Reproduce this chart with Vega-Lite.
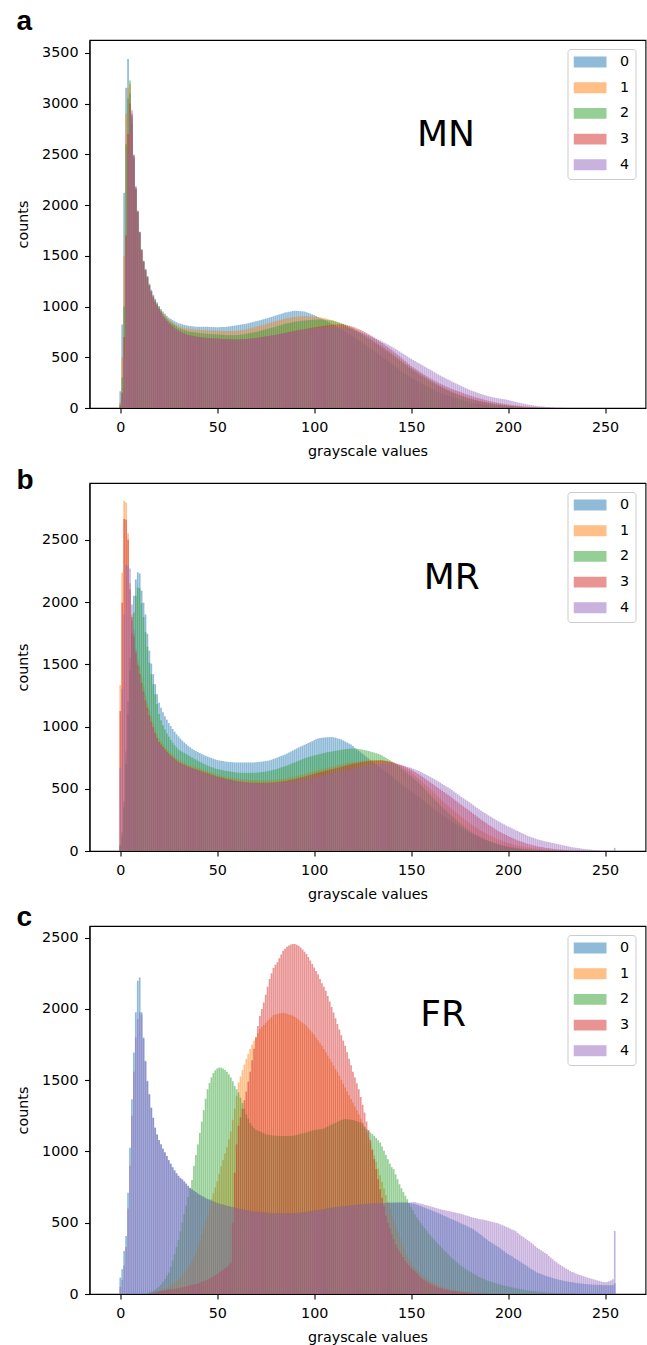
{
"$schema":"https://vega.github.io/schema/vega-lite/v6.json",
"padding":{"left":15.5,"top":7,"right":2,"bottom":2},
"bounds":"flush",
"spacing":75,
"resolve":{"scale":{"x":"independent","y":"independent","color":"independent"},"legend":{"color":"independent"}},
"config":{
"font":"DejaVu Sans",
"view":{"stroke":"#000000","strokeWidth":1.1},
"axis":{"domainColor":"#000000","domainWidth":1.1,"tickColor":"#000000","tickWidth":1.1,"tickSize":5,"labelColor":"#000000","labelFont":"DejaVu Sans","labelFontSize":14.3,"titleFont":"DejaVu Sans","titleFontSize":14.3,"titleFontWeight":"normal","titleColor":"#000000","grid":false,"labelFlush":false,"labelOverlap":false},
"axisX":{"labelPadding":7.5,"titlePadding":9.5},
"axisY":{"labelPadding":6.5,"titlePadding":11},
"legend":{"symbolType":"M-1,-0.33L1,-0.33L1,0.33L-1,0.33Z","symbolSize":1089,"symbolStrokeWidth":0,"symbolOpacity":0.5,"labelFont":"DejaVu Sans","labelFontSize":14.3,"labelColor":"#000000","labelOffset":13.5,"rowPadding":10.7,"padding":6,"strokeColor":"#cccccc","fillColor":"rgba(255,255,255,0.8)","cornerRadius":3,"clipHeight":14},
"title":{"font":"Liberation Sans","fontSize":28,"fontWeight":"bold","anchor":"start","frame":"bounds","color":"#000000","baseline":"alphabetic"}
},
"datasets":{
"a":[
{"x":0,"0":165,"1":60,"2":40,"3":20,"4":10},
{"x":1,"0":822,"1":500,"2":300,"3":150,"4":100},
{"x":2,"0":2120,"1":1500,"2":1000,"3":700,"4":500},
{"x":3,"0":3156,"1":2900,"2":2600,"3":1700,"4":1500},
{"x":4,"0":3440,"1":3150,"2":3050,"3":2700,"4":2500},
{"x":5,"0":3100,"1":3190,"2":3228,"3":3000,"4":2900},
{"x":6,"0":2800,"1":2850,"2":2880,"3":2900,"4":2933},
{"x":7,"0":2450,"1":2480,"2":2490,"3":2470,"4":2499},
{"x":8,"0":2150,"1":2170,"2":2175,"3":2160,"4":2186},
{"x":9,"0":1930,"1":1940,"2":1940,"3":1930,"4":1946},
{"x":10,"0":1730,"1":1735,"2":1735,"3":1720,"4":1736},
{"x":11,"0":1560,"1":1560,"2":1560,"3":1550,"4":1562},
{"x":12,"0":1450,"1":1445,"2":1445,"3":1435,"4":1447},
{"x":13,"0":1370,"1":1360,"2":1360,"3":1350,"4":1365},
{"x":14,"0":1300,"1":1290,"2":1290,"3":1280,"4":1295},
{"x":15,"0":1225,"1":1215,"2":1210,"3":1200,"4":1210},
{"x":16,"0":1165,"1":1155,"2":1150,"3":1140,"4":1150},
{"x":17,"0":1115,"1":1105,"2":1100,"3":1090,"4":1095},
{"x":18,"0":1075,"1":1065,"2":1060,"3":1045,"4":1050},
{"x":19,"0":1040,"1":1030,"2":1025,"3":1010,"4":1015},
{"x":20,"0":1005,"1":995,"2":990,"3":975,"4":980},
{"x":21,"0":975,"1":965,"2":957,"3":940,"4":942},
{"x":22,"0":950,"1":935,"2":925,"3":905,"4":905},
{"x":23,"0":928,"1":913,"2":903,"3":882,"4":882},
{"x":24,"0":908,"1":891,"2":881,"3":858,"4":858},
{"x":25,"0":890,"1":870,"2":860,"3":835,"4":835},
{"x":26,"0":878,"1":857,"2":846,"3":820,"4":820},
{"x":27,"0":866,"1":844,"2":832,"3":805,"4":805},
{"x":28,"0":855,"1":831,"2":818,"3":790,"4":790},
{"x":29,"0":845,"1":818,"2":804,"3":775,"4":775},
{"x":30,"0":835,"1":805,"2":790,"3":760,"4":760},
{"x":31,"0":830,"1":800,"2":783,"3":752,"4":752},
{"x":32,"0":825,"1":795,"2":776,"3":744,"4":744},
{"x":33,"0":818,"1":790,"2":769,"3":736,"4":736},
{"x":34,"0":814,"1":785,"2":762,"3":728,"4":728},
{"x":35,"0":810,"1":780,"2":755,"3":720,"4":720},
{"x":36,"0":808,"1":778,"2":752,"3":716,"4":716},
{"x":37,"0":805,"1":776,"2":749,"3":712,"4":712},
{"x":38,"0":803,"1":774,"2":746,"3":708,"4":708},
{"x":39,"0":801,"1":772,"2":743,"3":704,"4":704},
{"x":40,"0":800,"1":770,"2":740,"3":700,"4":700},
{"x":41,"0":800,"1":769,"2":738,"3":698,"4":698},
{"x":42,"0":800,"1":768,"2":736,"3":696,"4":696},
{"x":43,"0":800,"1":767,"2":734,"3":694,"4":694},
{"x":44,"0":800,"1":766,"2":732,"3":692,"4":692},
{"x":45,"0":800,"1":765,"2":730,"3":690,"4":690},
{"x":46,"0":799,"1":764,"2":729,"3":689,"4":689},
{"x":47,"0":798,"1":763,"2":728,"3":688,"4":688},
{"x":48,"0":797,"1":762,"2":727,"3":687,"4":686},
{"x":49,"0":796,"1":761,"2":726,"3":686,"4":684},
{"x":50,"0":795,"1":760,"2":725,"3":685,"4":683},
{"x":51,"0":796,"1":760,"2":724,"3":684,"4":682},
{"x":52,"0":797,"1":759,"2":722,"3":682,"4":681},
{"x":53,"0":798,"1":759,"2":721,"3":681,"4":680},
{"x":54,"0":799,"1":758,"2":719,"3":679,"4":679},
{"x":55,"0":800,"1":758,"2":718,"3":678,"4":678},
{"x":56,"0":803,"1":758,"2":718,"3":677,"4":677},
{"x":57,"0":806,"1":759,"2":718,"3":677,"4":677},
{"x":58,"0":809,"1":759,"2":718,"3":676,"4":676},
{"x":59,"0":812,"1":760,"2":718,"3":676,"4":676},
{"x":60,"0":815,"1":760,"2":718,"3":675,"4":675},
{"x":61,"0":818,"1":763,"2":720,"3":676,"4":676},
{"x":62,"0":821,"1":766,"2":723,"3":677,"4":677},
{"x":63,"0":824,"1":769,"2":725,"3":678,"4":678},
{"x":64,"0":827,"1":772,"2":728,"3":679,"4":679},
{"x":65,"0":830,"1":775,"2":730,"3":680,"4":680},
{"x":66,"0":835,"1":780,"2":734,"3":682,"4":682},
{"x":67,"0":840,"1":785,"2":738,"3":684,"4":684},
{"x":68,"0":845,"1":790,"2":742,"3":686,"4":686},
{"x":69,"0":850,"1":795,"2":746,"3":688,"4":688},
{"x":70,"0":855,"1":800,"2":750,"3":690,"4":690},
{"x":71,"0":860,"1":805,"2":755,"3":693,"4":693},
{"x":72,"0":865,"1":810,"2":760,"3":696,"4":696},
{"x":73,"0":870,"1":815,"2":765,"3":699,"4":699},
{"x":74,"0":875,"1":820,"2":770,"3":702,"4":702},
{"x":75,"0":880,"1":825,"2":775,"3":705,"4":705},
{"x":76,"0":886,"1":831,"2":780,"3":708,"4":708},
{"x":77,"0":892,"1":837,"2":785,"3":711,"4":711},
{"x":78,"0":898,"1":843,"2":790,"3":714,"4":714},
{"x":79,"0":904,"1":849,"2":795,"3":717,"4":717},
{"x":80,"0":910,"1":855,"2":800,"3":720,"4":720},
{"x":81,"0":916,"1":860,"2":806,"3":724,"4":724},
{"x":82,"0":922,"1":865,"2":812,"3":728,"4":727},
{"x":83,"0":928,"1":870,"2":818,"3":732,"4":731},
{"x":84,"0":934,"1":875,"2":824,"3":736,"4":734},
{"x":85,"0":940,"1":880,"2":830,"3":740,"4":738},
{"x":86,"0":944,"1":884,"2":834,"3":744,"4":741},
{"x":87,"0":948,"1":888,"2":838,"3":748,"4":745},
{"x":88,"0":952,"1":891,"2":842,"3":752,"4":748},
{"x":89,"0":955,"1":895,"2":846,"3":756,"4":752},
{"x":90,"0":958,"1":898,"2":850,"3":760,"4":755},
{"x":91,"0":957,"1":900,"2":852,"3":764,"4":758},
{"x":92,"0":956,"1":901,"2":855,"3":767,"4":761},
{"x":93,"0":954,"1":903,"2":857,"3":771,"4":764},
{"x":94,"0":952,"1":904,"2":860,"3":774,"4":767},
{"x":95,"0":950,"1":905,"2":862,"3":778,"4":770},
{"x":96,"0":944,"1":904,"2":864,"3":781,"4":772},
{"x":97,"0":937,"1":903,"2":865,"3":785,"4":775},
{"x":98,"0":930,"1":902,"2":867,"3":788,"4":777},
{"x":99,"0":922,"1":901,"2":868,"3":792,"4":780},
{"x":100,"0":915,"1":900,"2":870,"3":795,"4":782},
{"x":101,"0":906,"1":898,"2":870,"3":798,"4":784},
{"x":102,"0":897,"1":895,"2":871,"3":801,"4":786},
{"x":103,"0":888,"1":893,"2":871,"3":804,"4":788},
{"x":104,"0":879,"1":890,"2":872,"3":807,"4":790},
{"x":105,"0":870,"1":888,"2":872,"3":810,"4":792},
{"x":106,"0":860,"1":882,"2":870,"3":812,"4":793},
{"x":107,"0":850,"1":877,"2":867,"3":815,"4":794},
{"x":108,"0":840,"1":871,"2":865,"3":817,"4":796},
{"x":109,"0":830,"1":866,"2":862,"3":820,"4":797},
{"x":110,"0":820,"1":860,"2":860,"3":822,"4":798},
{"x":111,"0":809,"1":852,"2":854,"3":823,"4":797},
{"x":112,"0":798,"1":844,"2":848,"3":823,"4":797},
{"x":113,"0":787,"1":836,"2":842,"3":824,"4":796},
{"x":114,"0":776,"1":828,"2":836,"3":824,"4":796},
{"x":115,"0":765,"1":820,"2":830,"3":825,"4":795},
{"x":116,"0":753,"1":810,"2":821,"3":820,"4":791},
{"x":117,"0":741,"1":800,"2":812,"3":815,"4":787},
{"x":118,"0":729,"1":790,"2":803,"3":810,"4":783},
{"x":119,"0":717,"1":780,"2":794,"3":805,"4":779},
{"x":120,"0":705,"1":770,"2":785,"3":800,"4":775},
{"x":121,"0":692,"1":759,"2":774,"3":792,"4":768},
{"x":122,"0":679,"1":748,"2":763,"3":784,"4":761},
{"x":123,"0":666,"1":737,"2":752,"3":776,"4":754},
{"x":124,"0":653,"1":726,"2":741,"3":768,"4":747},
{"x":125,"0":640,"1":715,"2":730,"3":760,"4":740},
{"x":126,"0":627,"1":703,"2":718,"3":749,"4":732},
{"x":127,"0":614,"1":691,"2":706,"3":738,"4":724},
{"x":128,"0":601,"1":679,"2":694,"3":727,"4":716},
{"x":129,"0":588,"1":667,"2":682,"3":716,"4":708},
{"x":130,"0":575,"1":655,"2":670,"3":705,"4":700},
{"x":131,"0":561,"1":642,"2":657,"3":692,"4":691},
{"x":132,"0":547,"1":629,"2":644,"3":679,"4":682},
{"x":133,"0":533,"1":616,"2":631,"3":666,"4":673},
{"x":134,"0":519,"1":603,"2":618,"3":653,"4":664},
{"x":135,"0":505,"1":590,"2":605,"3":640,"4":655},
{"x":136,"0":491,"1":576,"2":591,"3":626,"4":645},
{"x":137,"0":477,"1":562,"2":577,"3":612,"4":635},
{"x":138,"0":463,"1":548,"2":563,"3":598,"4":625},
{"x":139,"0":449,"1":534,"2":549,"3":584,"4":615},
{"x":140,"0":435,"1":520,"2":535,"3":570,"4":605},
{"x":141,"0":421,"1":506,"2":521,"3":555,"4":593},
{"x":142,"0":407,"1":492,"2":507,"3":540,"4":581},
{"x":143,"0":393,"1":478,"2":493,"3":525,"4":569},
{"x":144,"0":379,"1":464,"2":479,"3":510,"4":557},
{"x":145,"0":365,"1":450,"2":465,"3":495,"4":545},
{"x":146,"0":352,"1":436,"2":451,"3":479,"4":533},
{"x":147,"0":339,"1":422,"2":437,"3":463,"4":521},
{"x":148,"0":326,"1":408,"2":423,"3":447,"4":509},
{"x":149,"0":313,"1":394,"2":409,"3":431,"4":497},
{"x":150,"0":300,"1":380,"2":395,"3":415,"4":485},
{"x":151,"0":289,"1":367,"2":382,"3":402,"4":474},
{"x":152,"0":278,"1":354,"2":369,"3":389,"4":463},
{"x":153,"0":267,"1":341,"2":356,"3":376,"4":452},
{"x":154,"0":256,"1":328,"2":343,"3":363,"4":441},
{"x":155,"0":245,"1":315,"2":330,"3":350,"4":430},
{"x":156,"0":235,"1":304,"2":318,"3":338,"4":419},
{"x":157,"0":225,"1":292,"2":306,"3":326,"4":408},
{"x":158,"0":215,"1":281,"2":294,"3":314,"4":397},
{"x":159,"0":205,"1":269,"2":282,"3":302,"4":386},
{"x":160,"0":195,"1":258,"2":270,"3":290,"4":375},
{"x":161,"0":186,"1":247,"2":259,"3":280,"4":364},
{"x":162,"0":177,"1":237,"2":248,"3":270,"4":353},
{"x":163,"0":168,"1":226,"2":237,"3":260,"4":342},
{"x":164,"0":159,"1":216,"2":226,"3":250,"4":331},
{"x":165,"0":150,"1":205,"2":215,"3":240,"4":320},
{"x":166,"0":143,"1":196,"2":206,"3":231,"4":310},
{"x":167,"0":136,"1":187,"2":196,"3":222,"4":300},
{"x":168,"0":129,"1":178,"2":187,"3":213,"4":290},
{"x":169,"0":122,"1":169,"2":177,"3":204,"4":280},
{"x":170,"0":115,"1":160,"2":168,"3":195,"4":270},
{"x":171,"0":109,"1":152,"2":160,"3":188,"4":261},
{"x":172,"0":103,"1":145,"2":152,"3":181,"4":252},
{"x":173,"0":97,"1":137,"2":144,"3":174,"4":243},
{"x":174,"0":91,"1":130,"2":136,"3":167,"4":234},
{"x":175,"0":85,"1":122,"2":128,"3":160,"4":225},
{"x":176,"0":80,"1":116,"2":122,"3":153,"4":216},
{"x":177,"0":75,"1":110,"2":115,"3":146,"4":207},
{"x":178,"0":70,"1":104,"2":109,"3":139,"4":198},
{"x":179,"0":65,"1":98,"2":102,"3":132,"4":189},
{"x":180,"0":60,"1":92,"2":96,"3":125,"4":180},
{"x":181,"0":56,"1":87,"2":91,"3":119,"4":173},
{"x":182,"0":53,"1":82,"2":86,"3":113,"4":166},
{"x":183,"0":49,"1":78,"2":80,"3":107,"4":159},
{"x":184,"0":46,"1":73,"2":75,"3":101,"4":152},
{"x":185,"0":42,"1":68,"2":70,"3":95,"4":145},
{"x":186,"0":39,"1":64,"2":66,"3":90,"4":139},
{"x":187,"0":36,"1":60,"2":62,"3":85,"4":133},
{"x":188,"0":34,"1":56,"2":58,"3":80,"4":127},
{"x":189,"0":31,"1":52,"2":54,"3":75,"4":121},
{"x":190,"0":28,"1":48,"2":50,"3":70,"4":115},
{"x":191,"0":26,"1":45,"2":47,"3":66,"4":111},
{"x":192,"0":24,"1":42,"2":44,"3":62,"4":107},
{"x":193,"0":22,"1":39,"2":40,"3":58,"4":103},
{"x":194,"0":20,"1":36,"2":37,"3":54,"4":99},
{"x":195,"0":18,"1":33,"2":34,"3":50,"4":95},
{"x":196,"0":17,"1":31,"2":32,"3":47,"4":92},
{"x":197,"0":15,"1":29,"2":29,"3":44,"4":89},
{"x":198,"0":14,"1":26,"2":27,"3":41,"4":86},
{"x":199,"0":12,"1":24,"2":24,"3":38,"4":83},
{"x":200,"0":11,"1":22,"2":22,"3":35,"4":80},
{"x":201,"0":10,"1":20,"2":20,"3":32,"4":75},
{"x":202,"0":9,"1":19,"2":19,"3":30,"4":70},
{"x":203,"0":8,"1":17,"2":17,"3":27,"4":65},
{"x":204,"0":7,"1":16,"2":16,"3":25,"4":60},
{"x":205,"0":6,"1":14,"2":14,"3":22,"4":55},
{"x":206,"0":5,"1":13,"2":13,"3":20,"4":51},
{"x":207,"0":5,"1":12,"2":11,"3":18,"4":47},
{"x":208,"0":4,"1":10,"2":10,"3":17,"4":43},
{"x":209,"0":4,"1":9,"2":9,"3":15,"4":39},
{"x":210,"0":3,"1":8,"2":8,"3":13,"4":35},
{"x":211,"0":3,"1":7,"2":7,"3":12,"4":32},
{"x":212,"0":2,"1":6,"2":6,"3":10,"4":29},
{"x":213,"0":2,"1":6,"2":5,"3":9,"4":26},
{"x":214,"0":1,"1":5,"2":5,"3":7,"4":23},
{"x":215,"0":1,"1":4,"2":4,"3":6,"4":20},
{"x":216,"0":1,"1":4,"2":4,"3":5,"4":18},
{"x":217,"0":0,"1":3,"2":3,"3":4,"4":16},
{"x":218,"0":0,"1":3,"2":3,"3":4,"4":14},
{"x":219,"0":0,"1":2,"2":2,"3":3,"4":12},
{"x":220,"0":0,"1":2,"2":2,"3":2,"4":10},
{"x":221,"0":0,"1":2,"2":2,"3":2,"4":9},
{"x":222,"0":0,"1":1,"2":1,"3":1,"4":7},
{"x":223,"0":0,"1":1,"2":1,"3":1,"4":6},
{"x":224,"0":0,"1":0,"2":0,"3":0,"4":5},
{"x":225,"0":0,"1":0,"2":0,"3":0,"4":4},
{"x":226,"0":0,"1":0,"2":0,"3":0,"4":3},
{"x":227,"0":0,"1":0,"2":0,"3":0,"4":3},
{"x":228,"0":0,"1":0,"2":0,"3":0,"4":2},
{"x":229,"0":0,"1":0,"2":0,"3":0,"4":2},
{"x":230,"0":0,"1":0,"2":0,"3":0,"4":1}
],
"b":[
{"x":0,"0":50,"1":1333,"2":40,"3":1124,"4":668},
{"x":1,"0":150,"1":2237,"2":120,"3":1995,"4":1300},
{"x":2,"0":400,"1":2813,"2":350,"3":2666,"4":1900},
{"x":3,"0":800,"1":2800,"2":700,"3":2660,"4":2300},
{"x":4,"0":1200,"1":2550,"2":1100,"3":2500,"4":2290},
{"x":5,"0":1550,"1":2150,"2":1450,"3":2100,"4":2270},
{"x":6,"0":1850,"1":1900,"2":1750,"3":1880,"4":1980},
{"x":7,"0":2050,"1":1740,"2":1915,"3":1720,"4":1780},
{"x":8,"0":2180,"1":1610,"2":2050,"3":1590,"4":1620},
{"x":9,"0":2240,"1":1530,"2":2116,"3":1490,"4":1500},
{"x":10,"0":2230,"1":1480,"2":2110,"3":1420,"4":1410},
{"x":11,"0":2090,"1":1400,"2":1990,"3":1350,"4":1330},
{"x":12,"0":1995,"1":1320,"2":1880,"3":1280,"4":1270},
{"x":13,"0":1900,"1":1250,"2":1760,"3":1210,"4":1200},
{"x":14,"0":1745,"1":1185,"2":1640,"3":1150,"4":1140},
{"x":15,"0":1610,"1":1130,"2":1513,"3":1090,"4":1085},
{"x":16,"0":1505,"1":1075,"2":1420,"3":1040,"4":1035},
{"x":17,"0":1420,"1":1025,"2":1340,"3":995,"4":990},
{"x":18,"0":1340,"1":980,"2":1260,"3":950,"4":945},
{"x":19,"0":1260,"1":940,"2":1180,"3":910,"4":905},
{"x":20,"0":1190,"1":900,"2":1100,"3":875,"4":870},
{"x":21,"0":1150,"1":878,"2":1050,"3":855,"4":850},
{"x":22,"0":1115,"1":857,"2":1010,"3":835,"4":830},
{"x":23,"0":1083,"1":837,"2":975,"3":815,"4":810},
{"x":24,"0":1055,"1":818,"2":945,"3":797,"4":792},
{"x":25,"0":1028,"1":800,"2":918,"3":780,"4":775},
{"x":26,"0":1003,"1":786,"2":893,"3":766,"4":761},
{"x":27,"0":980,"1":773,"2":870,"3":753,"4":748},
{"x":28,"0":958,"1":760,"2":850,"3":740,"4":735},
{"x":29,"0":938,"1":747,"2":832,"3":727,"4":722},
{"x":30,"0":920,"1":735,"2":815,"3":715,"4":710},
{"x":31,"0":903,"1":727,"2":806,"3":708,"4":703},
{"x":32,"0":887,"1":719,"2":797,"3":700,"4":695},
{"x":33,"0":872,"1":711,"2":788,"3":693,"4":688},
{"x":34,"0":858,"1":703,"2":779,"3":685,"4":680},
{"x":35,"0":845,"1":695,"2":770,"3":678,"4":673},
{"x":36,"0":833,"1":690,"2":761,"3":672,"4":667},
{"x":37,"0":822,"1":684,"2":752,"3":667,"4":662},
{"x":38,"0":812,"1":679,"2":743,"3":661,"4":656},
{"x":39,"0":803,"1":673,"2":734,"3":656,"4":651},
{"x":40,"0":795,"1":668,"2":725,"3":650,"4":645},
{"x":41,"0":787,"1":662,"2":717,"3":645,"4":640},
{"x":42,"0":779,"1":657,"2":708,"3":640,"4":635},
{"x":43,"0":772,"1":651,"2":700,"3":635,"4":630},
{"x":44,"0":765,"1":646,"2":693,"3":630,"4":625},
{"x":45,"0":759,"1":640,"2":687,"3":625,"4":620},
{"x":46,"0":753,"1":634,"2":680,"3":620,"4":615},
{"x":47,"0":747,"1":629,"2":674,"3":614,"4":609},
{"x":48,"0":741,"1":623,"2":669,"3":609,"4":604},
{"x":49,"0":736,"1":618,"2":663,"3":603,"4":598},
{"x":50,"0":731,"1":612,"2":658,"3":598,"4":593},
{"x":51,"0":727,"1":608,"2":655,"3":594,"4":589},
{"x":52,"0":724,"1":604,"2":652,"3":590,"4":585},
{"x":53,"0":722,"1":601,"2":648,"3":586,"4":581},
{"x":54,"0":719,"1":597,"2":645,"3":582,"4":577},
{"x":55,"0":717,"1":593,"2":642,"3":578,"4":573},
{"x":56,"0":715,"1":590,"2":640,"3":575,"4":570},
{"x":57,"0":714,"1":588,"2":637,"3":572,"4":567},
{"x":58,"0":713,"1":585,"2":635,"3":568,"4":563},
{"x":59,"0":712,"1":583,"2":632,"3":565,"4":560},
{"x":60,"0":711,"1":580,"2":630,"3":562,"4":557},
{"x":61,"0":711,"1":578,"2":629,"3":560,"4":555},
{"x":62,"0":711,"1":577,"2":629,"3":558,"4":553},
{"x":63,"0":711,"1":575,"2":628,"3":556,"4":551},
{"x":64,"0":711,"1":574,"2":628,"3":554,"4":550},
{"x":65,"0":711,"1":572,"2":627,"3":552,"4":548},
{"x":66,"0":711,"1":571,"2":627,"3":551,"4":547},
{"x":67,"0":711,"1":570,"2":627,"3":550,"4":546},
{"x":68,"0":711,"1":570,"2":628,"3":549,"4":545},
{"x":69,"0":711,"1":569,"2":628,"3":549,"4":544},
{"x":70,"0":712,"1":568,"2":628,"3":548,"4":543},
{"x":71,"0":714,"1":568,"2":630,"3":548,"4":543},
{"x":72,"0":716,"1":567,"2":632,"3":548,"4":542},
{"x":73,"0":718,"1":567,"2":634,"3":548,"4":542},
{"x":74,"0":720,"1":567,"2":636,"3":548,"4":542},
{"x":75,"0":722,"1":567,"2":638,"3":548,"4":542},
{"x":76,"0":725,"1":568,"2":641,"3":549,"4":543},
{"x":77,"0":728,"1":569,"2":645,"3":550,"4":543},
{"x":78,"0":733,"1":570,"2":648,"3":550,"4":544},
{"x":79,"0":739,"1":571,"2":652,"3":551,"4":544},
{"x":80,"0":745,"1":572,"2":655,"3":552,"4":545},
{"x":81,"0":751,"1":574,"2":660,"3":554,"4":546},
{"x":82,"0":757,"1":576,"2":665,"3":556,"4":548},
{"x":83,"0":763,"1":578,"2":671,"3":558,"4":549},
{"x":84,"0":769,"1":580,"2":676,"3":560,"4":551},
{"x":85,"0":775,"1":582,"2":681,"3":562,"4":552},
{"x":86,"0":783,"1":585,"2":687,"3":565,"4":554},
{"x":87,"0":791,"1":588,"2":693,"3":568,"4":556},
{"x":88,"0":800,"1":592,"2":700,"3":572,"4":558},
{"x":89,"0":808,"1":595,"2":706,"3":575,"4":560},
{"x":90,"0":816,"1":598,"2":712,"3":578,"4":562},
{"x":91,"0":824,"1":602,"2":719,"3":582,"4":565},
{"x":92,"0":832,"1":606,"2":725,"3":586,"4":567},
{"x":93,"0":839,"1":610,"2":732,"3":590,"4":570},
{"x":94,"0":846,"1":614,"2":738,"3":594,"4":572},
{"x":95,"0":853,"1":618,"2":745,"3":598,"4":575},
{"x":96,"0":860,"1":622,"2":749,"3":602,"4":578},
{"x":97,"0":868,"1":627,"2":754,"3":607,"4":581},
{"x":98,"0":875,"1":631,"2":759,"3":611,"4":584},
{"x":99,"0":882,"1":636,"2":763,"3":616,"4":587},
{"x":100,"0":890,"1":640,"2":768,"3":620,"4":590},
{"x":101,"0":897,"1":644,"2":772,"3":624,"4":593},
{"x":102,"0":904,"1":648,"2":776,"3":628,"4":597},
{"x":103,"0":907,"1":652,"2":780,"3":633,"4":600},
{"x":104,"0":910,"1":656,"2":784,"3":637,"4":604},
{"x":105,"0":912,"1":660,"2":788,"3":641,"4":607},
{"x":106,"0":913,"1":664,"2":791,"3":645,"4":611},
{"x":107,"0":914,"1":668,"2":794,"3":649,"4":614},
{"x":108,"0":915,"1":672,"2":796,"3":652,"4":618},
{"x":109,"0":915,"1":676,"2":799,"3":656,"4":621},
{"x":110,"0":913,"1":680,"2":802,"3":660,"4":625},
{"x":111,"0":910,"1":684,"2":805,"3":664,"4":629},
{"x":112,"0":905,"1":688,"2":807,"3":668,"4":632},
{"x":113,"0":900,"1":692,"2":810,"3":672,"4":636},
{"x":114,"0":896,"1":696,"2":812,"3":676,"4":639},
{"x":115,"0":888,"1":700,"2":815,"3":680,"4":643},
{"x":116,"0":880,"1":703,"2":817,"3":684,"4":646},
{"x":117,"0":872,"1":706,"2":820,"3":688,"4":650},
{"x":118,"0":864,"1":709,"2":822,"3":692,"4":653},
{"x":119,"0":856,"1":712,"2":824,"3":696,"4":657},
{"x":120,"0":843,"1":715,"2":823,"3":700,"4":660},
{"x":121,"0":830,"1":717,"2":822,"3":703,"4":663},
{"x":122,"0":816,"1":719,"2":821,"3":706,"4":667},
{"x":123,"0":804,"1":721,"2":820,"3":709,"4":670},
{"x":124,"0":792,"1":723,"2":817,"3":712,"4":674},
{"x":125,"0":780,"1":725,"2":814,"3":715,"4":677},
{"x":126,"0":768,"1":726,"2":811,"3":717,"4":680},
{"x":127,"0":756,"1":728,"2":808,"3":719,"4":682},
{"x":128,"0":744,"1":729,"2":804,"3":721,"4":685},
{"x":129,"0":732,"1":731,"2":799,"3":723,"4":687},
{"x":130,"0":720,"1":732,"2":795,"3":725,"4":690},
{"x":131,"0":708,"1":732,"2":790,"3":725,"4":692},
{"x":132,"0":696,"1":731,"2":785,"3":726,"4":694},
{"x":133,"0":684,"1":731,"2":781,"3":726,"4":696},
{"x":134,"0":672,"1":730,"2":776,"3":727,"4":698},
{"x":135,"0":660,"1":730,"2":767,"3":727,"4":700},
{"x":136,"0":648,"1":727,"2":758,"3":725,"4":701},
{"x":137,"0":636,"1":724,"2":750,"3":722,"4":701},
{"x":138,"0":624,"1":721,"2":740,"3":720,"4":702},
{"x":139,"0":612,"1":718,"2":730,"3":717,"4":702},
{"x":140,"0":600,"1":715,"2":720,"3":715,"4":703},
{"x":141,"0":588,"1":708,"2":710,"3":710,"4":701},
{"x":142,"0":576,"1":701,"2":700,"3":705,"4":698},
{"x":143,"0":564,"1":694,"2":690,"3":700,"4":695},
{"x":144,"0":552,"1":687,"2":675,"3":695,"4":693},
{"x":145,"0":540,"1":680,"2":660,"3":690,"4":690},
{"x":146,"0":528,"1":670,"2":650,"3":683,"4":686},
{"x":147,"0":516,"1":660,"2":638,"3":676,"4":681},
{"x":148,"0":504,"1":650,"2":625,"3":669,"4":677},
{"x":149,"0":492,"1":640,"2":612,"3":662,"4":672},
{"x":150,"0":480,"1":630,"2":600,"3":655,"4":668},
{"x":151,"0":468,"1":617,"2":586,"3":645,"4":661},
{"x":152,"0":456,"1":604,"2":572,"3":635,"4":655},
{"x":153,"0":444,"1":591,"2":558,"3":625,"4":648},
{"x":154,"0":432,"1":578,"2":544,"3":615,"4":642},
{"x":155,"0":420,"1":565,"2":530,"3":605,"4":635},
{"x":156,"0":408,"1":551,"2":514,"3":594,"4":627},
{"x":157,"0":396,"1":537,"2":498,"3":583,"4":619},
{"x":158,"0":384,"1":523,"2":482,"3":572,"4":611},
{"x":159,"0":372,"1":509,"2":466,"3":561,"4":603},
{"x":160,"0":360,"1":495,"2":450,"3":550,"4":595},
{"x":161,"0":348,"1":480,"2":434,"3":539,"4":586},
{"x":162,"0":336,"1":465,"2":418,"3":528,"4":577},
{"x":163,"0":324,"1":450,"2":402,"3":517,"4":568},
{"x":164,"0":312,"1":435,"2":386,"3":506,"4":559},
{"x":165,"0":300,"1":420,"2":370,"3":495,"4":550},
{"x":166,"0":289,"1":406,"2":355,"3":484,"4":540},
{"x":167,"0":278,"1":392,"2":340,"3":473,"4":531},
{"x":168,"0":267,"1":378,"2":325,"3":462,"4":521},
{"x":169,"0":256,"1":364,"2":310,"3":451,"4":512},
{"x":170,"0":245,"1":350,"2":295,"3":440,"4":502},
{"x":171,"0":235,"1":337,"2":281,"3":428,"4":491},
{"x":172,"0":225,"1":324,"2":267,"3":416,"4":479},
{"x":173,"0":215,"1":311,"2":253,"3":404,"4":468},
{"x":174,"0":205,"1":298,"2":239,"3":392,"4":456},
{"x":175,"0":195,"1":285,"2":225,"3":380,"4":445},
{"x":176,"0":186,"1":273,"2":213,"3":369,"4":434},
{"x":177,"0":177,"1":261,"2":201,"3":358,"4":424},
{"x":178,"0":168,"1":249,"2":189,"3":347,"4":413},
{"x":179,"0":159,"1":237,"2":177,"3":336,"4":403},
{"x":180,"0":150,"1":225,"2":165,"3":325,"4":392},
{"x":181,"0":142,"1":214,"2":156,"3":313,"4":381},
{"x":182,"0":134,"1":204,"2":146,"3":301,"4":370},
{"x":183,"0":126,"1":193,"2":137,"3":289,"4":358},
{"x":184,"0":118,"1":183,"2":127,"3":277,"4":347},
{"x":185,"0":110,"1":172,"2":118,"3":265,"4":336},
{"x":186,"0":104,"1":163,"2":110,"3":254,"4":326},
{"x":187,"0":98,"1":154,"2":103,"3":243,"4":316},
{"x":188,"0":92,"1":146,"2":95,"3":232,"4":305},
{"x":189,"0":86,"1":137,"2":88,"3":221,"4":295},
{"x":190,"0":80,"1":128,"2":80,"3":210,"4":285},
{"x":191,"0":75,"1":121,"2":74,"3":200,"4":276},
{"x":192,"0":70,"1":114,"2":69,"3":190,"4":267},
{"x":193,"0":65,"1":106,"2":63,"3":180,"4":257},
{"x":194,"0":60,"1":99,"2":58,"3":170,"4":248},
{"x":195,"0":55,"1":92,"2":52,"3":160,"4":239},
{"x":196,"0":51,"1":86,"2":48,"3":152,"4":231},
{"x":197,"0":47,"1":81,"2":44,"3":144,"4":222},
{"x":198,"0":44,"1":75,"2":40,"3":136,"4":214},
{"x":199,"0":40,"1":70,"2":36,"3":128,"4":205},
{"x":200,"0":36,"1":64,"2":32,"3":120,"4":197},
{"x":201,"0":33,"1":60,"2":29,"3":113,"4":190},
{"x":202,"0":30,"1":56,"2":27,"3":106,"4":182},
{"x":203,"0":28,"1":51,"2":24,"3":99,"4":175},
{"x":204,"0":25,"1":47,"2":22,"3":92,"4":167},
{"x":205,"0":22,"1":43,"2":19,"3":85,"4":160},
{"x":206,"0":20,"1":40,"2":17,"3":80,"4":152},
{"x":207,"0":18,"1":37,"2":15,"3":74,"4":145},
{"x":208,"0":17,"1":34,"2":13,"3":69,"4":137},
{"x":209,"0":15,"1":31,"2":12,"3":63,"4":130},
{"x":210,"0":13,"1":28,"2":10,"3":58,"4":122},
{"x":211,"0":12,"1":26,"2":9,"3":54,"4":117},
{"x":212,"0":11,"1":24,"2":8,"3":50,"4":111},
{"x":213,"0":10,"1":21,"2":7,"3":46,"4":106},
{"x":214,"0":8,"1":19,"2":6,"3":42,"4":100},
{"x":215,"0":7,"1":17,"2":5,"3":38,"4":95},
{"x":216,"0":6,"1":16,"2":4,"3":35,"4":91},
{"x":217,"0":5,"1":14,"2":4,"3":32,"4":87},
{"x":218,"0":5,"1":13,"2":3,"3":30,"4":83},
{"x":219,"0":4,"1":11,"2":3,"3":27,"4":79},
{"x":220,"0":3,"1":10,"2":2,"3":24,"4":75},
{"x":221,"0":3,"1":9,"2":2,"3":22,"4":72},
{"x":222,"0":2,"1":8,"2":1,"3":20,"4":68},
{"x":223,"0":2,"1":7,"2":1,"3":18,"4":65},
{"x":224,"0":1,"1":6,"2":1,"3":16,"4":61},
{"x":225,"0":1,"1":5,"2":0,"3":14,"4":58},
{"x":226,"0":1,"1":4,"2":0,"3":13,"4":54},
{"x":227,"0":0,"1":4,"2":0,"3":12,"4":51},
{"x":228,"0":0,"1":3,"2":0,"3":10,"4":47},
{"x":229,"0":0,"1":3,"2":0,"3":9,"4":44},
{"x":230,"0":0,"1":2,"2":0,"3":8,"4":40},
{"x":231,"0":0,"1":2,"2":0,"3":7,"4":37},
{"x":232,"0":0,"1":1,"2":0,"3":6,"4":34},
{"x":233,"0":0,"1":1,"2":0,"3":6,"4":31},
{"x":234,"0":0,"1":1,"2":0,"3":5,"4":29},
{"x":235,"0":0,"1":0,"2":0,"3":4,"4":26},
{"x":236,"0":0,"1":0,"2":0,"3":4,"4":24},
{"x":237,"0":0,"1":0,"2":0,"3":3,"4":22},
{"x":238,"0":0,"1":0,"2":0,"3":3,"4":19},
{"x":239,"0":0,"1":0,"2":0,"3":2,"4":17},
{"x":240,"0":0,"1":0,"2":0,"3":2,"4":15},
{"x":241,"0":0,"1":0,"2":0,"3":2,"4":14},
{"x":242,"0":0,"1":0,"2":0,"3":1,"4":12},
{"x":243,"0":0,"1":0,"2":0,"3":1,"4":11},
{"x":244,"0":0,"1":0,"2":0,"3":1,"4":9},
{"x":245,"0":0,"1":0,"2":0,"3":1,"4":8},
{"x":246,"0":0,"1":0,"2":0,"3":0,"4":7},
{"x":247,"0":0,"1":0,"2":0,"3":0,"4":6},
{"x":248,"0":0,"1":0,"2":0,"3":0,"4":5},
{"x":249,"0":0,"1":0,"2":0,"3":0,"4":5},
{"x":250,"0":0,"1":0,"2":0,"3":0,"4":4},
{"x":251,"0":0,"1":0,"2":0,"3":0,"4":3},
{"x":252,"0":0,"1":0,"2":0,"3":0,"4":3},
{"x":253,"0":0,"1":0,"2":0,"3":0,"4":2},
{"x":254,"0":0,"1":0,"2":0,"3":0,"4":2},
{"x":255,"0":0,"1":0,"2":0,"3":0,"4":25}
],
"c":[
{"x":0,"0":115,"1":0,"2":0,"3":0,"4":50},
{"x":1,"0":173,"1":0,"2":0,"3":0,"4":100},
{"x":2,"0":302,"1":0,"2":0,"3":0,"4":200},
{"x":3,"0":407,"1":0,"2":0,"3":0,"4":330},
{"x":4,"0":711,"1":0,"2":0,"3":0,"4":600},
{"x":5,"0":1027,"1":0,"2":0,"3":0,"4":900},
{"x":6,"0":1367,"1":0,"2":0,"3":0,"4":1250},
{"x":7,"0":1695,"1":0,"2":0,"3":0,"4":1560},
{"x":8,"0":1976,"1":0,"2":0,"3":0,"4":1800},
{"x":9,"0":2198,"1":0,"2":0,"3":0,"4":1930},
{"x":10,"0":2221,"1":0,"2":0,"3":0,"4":1976},
{"x":11,"0":1976,"1":0,"2":0,"3":0,"4":1960},
{"x":12,"0":1800,"1":0,"2":0,"3":0,"4":1790},
{"x":13,"0":1636,"1":0,"2":0,"3":0,"4":1630},
{"x":14,"0":1496,"1":0,"2":0,"3":0,"4":1490},
{"x":15,"0":1402,"1":0,"2":10,"3":5,"4":1400},
{"x":16,"0":1308,"1":0,"2":15,"3":8,"4":1305},
{"x":17,"0":1238,"1":0,"2":22,"3":10,"4":1235},
{"x":18,"0":1168,"1":0,"2":30,"3":13,"4":1165},
{"x":19,"0":1121,"1":0,"2":40,"3":16,"4":1118},
{"x":20,"0":1080,"1":20,"2":50,"3":20,"4":1078},
{"x":21,"0":1051,"1":25,"2":65,"3":22,"4":1049},
{"x":22,"0":1020,"1":30,"2":85,"3":24,"4":1018},
{"x":23,"0":995,"1":37,"2":105,"3":26,"4":993},
{"x":24,"0":969,"1":43,"2":128,"3":28,"4":967},
{"x":25,"0":940,"1":50,"2":150,"3":30,"4":938},
{"x":26,"0":915,"1":60,"2":190,"3":32,"4":913},
{"x":27,"0":890,"1":70,"2":235,"3":34,"4":888},
{"x":28,"0":868,"1":80,"2":280,"3":36,"4":866},
{"x":29,"0":848,"1":90,"2":330,"3":38,"4":846},
{"x":30,"0":830,"1":100,"2":380,"3":40,"4":828},
{"x":31,"0":815,"1":115,"2":440,"3":43,"4":813},
{"x":32,"0":805,"1":130,"2":500,"3":47,"4":802},
{"x":33,"0":790,"1":147,"2":560,"3":50,"4":788},
{"x":34,"0":775,"1":163,"2":620,"3":54,"4":773},
{"x":35,"0":760,"1":180,"2":680,"3":57,"4":758},
{"x":36,"0":745,"1":207,"2":740,"3":61,"4":743},
{"x":37,"0":735,"1":233,"2":800,"3":64,"4":733},
{"x":38,"0":725,"1":260,"2":900,"3":68,"4":723},
{"x":39,"0":715,"1":295,"2":975,"3":71,"4":713},
{"x":40,"0":705,"1":330,"2":1050,"3":75,"4":703},
{"x":41,"0":697,"1":375,"2":1130,"3":80,"4":695},
{"x":42,"0":689,"1":420,"2":1210,"3":85,"4":687},
{"x":43,"0":682,"1":467,"2":1290,"3":90,"4":680},
{"x":44,"0":674,"1":513,"2":1370,"3":95,"4":672},
{"x":45,"0":667,"1":560,"2":1437,"3":100,"4":665},
{"x":46,"0":662,"1":612,"2":1480,"3":108,"4":660},
{"x":47,"0":656,"1":665,"2":1520,"3":116,"4":654},
{"x":48,"0":651,"1":707,"2":1550,"3":124,"4":649},
{"x":49,"0":645,"1":748,"2":1570,"3":132,"4":643},
{"x":50,"0":640,"1":790,"2":1582,"3":140,"4":638},
{"x":51,"0":636,"1":843,"2":1589,"3":150,"4":634},
{"x":52,"0":632,"1":896,"2":1588,"3":160,"4":630},
{"x":53,"0":628,"1":940,"2":1582,"3":170,"4":626},
{"x":54,"0":624,"1":985,"2":1572,"3":180,"4":622},
{"x":55,"0":620,"1":1030,"2":1560,"3":190,"4":618},
{"x":56,"0":617,"1":1085,"2":1542,"3":205,"4":615},
{"x":57,"0":613,"1":1140,"2":1520,"3":220,"4":611},
{"x":58,"0":610,"1":1220,"2":1492,"3":500,"4":608},
{"x":59,"0":606,"1":1300,"2":1460,"3":850,"4":604},
{"x":60,"0":603,"1":1390,"2":1437,"3":1050,"4":601},
{"x":61,"0":600,"1":1484,"2":1414,"3":1180,"4":598},
{"x":62,"0":598,"1":1527,"2":1378,"3":1240,"4":596},
{"x":63,"0":595,"1":1570,"2":1340,"3":1300,"4":593},
{"x":64,"0":593,"1":1610,"2":1300,"3":1360,"4":591},
{"x":65,"0":590,"1":1650,"2":1260,"3":1420,"4":588},
{"x":66,"0":588,"1":1685,"2":1230,"3":1490,"4":586},
{"x":67,"0":585,"1":1720,"2":1200,"3":1560,"4":583},
{"x":68,"0":583,"1":1750,"2":1180,"3":1640,"4":581},
{"x":69,"0":580,"1":1777,"2":1165,"3":1720,"4":578},
{"x":70,"0":578,"1":1805,"2":1150,"3":1800,"4":576},
{"x":71,"0":577,"1":1832,"2":1145,"3":1880,"4":575},
{"x":72,"0":576,"1":1859,"2":1140,"3":1950,"4":574},
{"x":73,"0":574,"1":1874,"2":1133,"3":2000,"4":572},
{"x":74,"0":573,"1":1888,"2":1127,"3":2046,"4":571},
{"x":75,"0":572,"1":1903,"2":1120,"3":2100,"4":570},
{"x":76,"0":571,"1":1917,"2":1118,"3":2155,"4":569},
{"x":77,"0":570,"1":1930,"2":1116,"3":2210,"4":568},
{"x":78,"0":569,"1":1944,"2":1114,"3":2250,"4":567},
{"x":79,"0":568,"1":1957,"2":1112,"3":2288,"4":566},
{"x":80,"0":567,"1":1961,"2":1110,"3":2310,"4":565},
{"x":81,"0":567,"1":1965,"2":1110,"3":2327,"4":565},
{"x":82,"0":567,"1":1968,"2":1109,"3":2355,"4":565},
{"x":83,"0":566,"1":1970,"2":1109,"3":2382,"4":564},
{"x":84,"0":566,"1":1971,"2":1108,"3":2409,"4":564},
{"x":85,"0":566,"1":1969,"2":1108,"3":2423,"4":564},
{"x":86,"0":566,"1":1966,"2":1108,"3":2436,"4":564},
{"x":87,"0":567,"1":1961,"2":1109,"3":2446,"4":565},
{"x":88,"0":567,"1":1957,"2":1109,"3":2452,"4":565},
{"x":89,"0":568,"1":1952,"2":1110,"3":2455,"4":566},
{"x":90,"0":568,"1":1943,"2":1113,"3":2456,"4":566},
{"x":91,"0":569,"1":1934,"2":1116,"3":2450,"4":567},
{"x":92,"0":571,"1":1925,"2":1120,"3":2443,"4":569},
{"x":93,"0":572,"1":1914,"2":1124,"3":2432,"4":570},
{"x":94,"0":574,"1":1904,"2":1127,"3":2417,"4":572},
{"x":95,"0":575,"1":1893,"2":1130,"3":2402,"4":573},
{"x":96,"0":577,"1":1882,"2":1134,"3":2386,"4":575},
{"x":97,"0":579,"1":1866,"2":1138,"3":2365,"4":577},
{"x":98,"0":581,"1":1851,"2":1142,"3":2340,"4":579},
{"x":99,"0":583,"1":1835,"2":1146,"3":2315,"4":581},
{"x":100,"0":585,"1":1820,"2":1150,"3":2291,"4":583},
{"x":101,"0":587,"1":1800,"2":1152,"3":2267,"4":585},
{"x":102,"0":590,"1":1781,"2":1154,"3":2243,"4":588},
{"x":103,"0":592,"1":1761,"2":1156,"3":2210,"4":590},
{"x":104,"0":595,"1":1742,"2":1157,"3":2180,"4":593},
{"x":105,"0":597,"1":1719,"2":1162,"3":2155,"4":595},
{"x":106,"0":599,"1":1696,"2":1168,"3":2128,"4":597},
{"x":107,"0":601,"1":1673,"2":1175,"3":2090,"4":599},
{"x":108,"0":604,"1":1650,"2":1182,"3":2052,"4":602},
{"x":109,"0":606,"1":1626,"2":1189,"3":2014,"4":604},
{"x":110,"0":608,"1":1602,"2":1195,"3":1975,"4":606},
{"x":111,"0":610,"1":1578,"2":1201,"3":1935,"4":608},
{"x":112,"0":612,"1":1555,"2":1208,"3":1895,"4":610},
{"x":113,"0":613,"1":1531,"2":1214,"3":1855,"4":611},
{"x":114,"0":615,"1":1503,"2":1220,"3":1815,"4":613},
{"x":115,"0":617,"1":1475,"2":1224,"3":1778,"4":615},
{"x":116,"0":618,"1":1448,"2":1227,"3":1742,"4":616},
{"x":117,"0":620,"1":1420,"2":1226,"3":1697,"4":618},
{"x":118,"0":621,"1":1394,"2":1224,"3":1651,"4":619},
{"x":119,"0":623,"1":1369,"2":1222,"3":1605,"4":621},
{"x":120,"0":624,"1":1343,"2":1220,"3":1560,"4":625},
{"x":121,"0":625,"1":1315,"2":1216,"3":1519,"4":626},
{"x":122,"0":626,"1":1288,"2":1212,"3":1478,"4":627},
{"x":123,"0":628,"1":1260,"2":1207,"3":1437,"4":629},
{"x":124,"0":629,"1":1231,"2":1203,"3":1382,"4":630},
{"x":125,"0":630,"1":1203,"2":1190,"3":1328,"4":631},
{"x":126,"0":631,"1":1169,"2":1174,"3":1273,"4":632},
{"x":127,"0":632,"1":1134,"2":1157,"3":1210,"4":633},
{"x":128,"0":633,"1":1100,"2":1145,"3":1150,"4":634},
{"x":129,"0":634,"1":1060,"2":1133,"3":1080,"4":635},
{"x":130,"0":635,"1":1020,"2":1121,"3":1010,"4":636},
{"x":131,"0":636,"1":973,"2":1110,"3":946,"4":637},
{"x":132,"0":636,"1":927,"2":1094,"3":876,"4":637},
{"x":133,"0":637,"1":880,"2":1079,"3":806,"4":638},
{"x":134,"0":637,"1":833,"2":1063,"3":735,"4":638},
{"x":135,"0":638,"1":787,"2":1035,"3":675,"4":639},
{"x":136,"0":638,"1":740,"2":1005,"3":615,"4":639},
{"x":137,"0":639,"1":693,"2":975,"3":550,"4":640},
{"x":138,"0":639,"1":647,"2":945,"3":500,"4":640},
{"x":139,"0":640,"1":600,"2":915,"3":460,"4":641},
{"x":140,"0":640,"1":557,"2":890,"3":420,"4":641},
{"x":141,"0":640,"1":513,"2":876,"3":385,"4":641},
{"x":142,"0":641,"1":470,"2":840,"3":350,"4":642},
{"x":143,"0":641,"1":433,"2":805,"3":325,"4":642},
{"x":144,"0":641,"1":397,"2":770,"3":300,"4":642},
{"x":145,"0":641,"1":360,"2":742,"3":280,"4":642},
{"x":146,"0":641,"1":330,"2":715,"3":260,"4":642},
{"x":147,"0":641,"1":300,"2":690,"3":235,"4":641},
{"x":148,"0":641,"1":270,"2":665,"3":215,"4":641},
{"x":149,"0":639,"1":247,"2":637,"3":200,"4":641},
{"x":150,"0":637,"1":223,"2":610,"3":185,"4":643},
{"x":151,"0":635,"1":200,"2":585,"3":172,"4":644},
{"x":152,"0":632,"1":185,"2":560,"3":160,"4":645},
{"x":153,"0":627,"1":170,"2":537,"3":148,"4":641},
{"x":154,"0":621,"1":155,"2":515,"3":130,"4":637},
{"x":155,"0":616,"1":140,"2":496,"3":115,"4":634},
{"x":156,"0":610,"1":130,"2":478,"3":103,"4":630},
{"x":157,"0":605,"1":120,"2":461,"3":95,"4":626},
{"x":158,"0":600,"1":110,"2":444,"3":88,"4":623},
{"x":159,"0":595,"1":100,"2":427,"3":80,"4":619},
{"x":160,"0":590,"1":90,"2":410,"3":72,"4":615},
{"x":161,"0":584,"1":83,"2":395,"3":65,"4":611},
{"x":162,"0":579,"1":76,"2":380,"3":58,"4":607},
{"x":163,"0":573,"1":69,"2":366,"3":52,"4":603},
{"x":164,"0":568,"1":62,"2":351,"3":46,"4":599},
{"x":165,"0":562,"1":55,"2":337,"3":42,"4":595},
{"x":166,"0":556,"1":50,"2":323,"3":38,"4":592},
{"x":167,"0":549,"1":46,"2":309,"3":34,"4":589},
{"x":168,"0":543,"1":41,"2":294,"3":30,"4":586},
{"x":169,"0":536,"1":37,"2":280,"3":27,"4":583},
{"x":170,"0":530,"1":32,"2":265,"3":25,"4":580},
{"x":171,"0":524,"1":29,"2":253,"3":23,"4":577},
{"x":172,"0":519,"1":26,"2":241,"3":22,"4":574},
{"x":173,"0":513,"1":24,"2":229,"3":21,"4":571},
{"x":174,"0":507,"1":21,"2":217,"3":19,"4":568},
{"x":175,"0":500,"1":18,"2":205,"3":17,"4":565},
{"x":176,"0":494,"1":16,"2":196,"3":16,"4":561},
{"x":177,"0":488,"1":15,"2":187,"3":14,"4":557},
{"x":178,"0":482,"1":13,"2":178,"3":13,"4":553},
{"x":179,"0":475,"1":12,"2":169,"3":11,"4":549},
{"x":180,"0":469,"1":10,"2":160,"3":10,"4":545},
{"x":181,"0":462,"1":9,"2":152,"3":9,"4":540},
{"x":182,"0":456,"1":8,"2":144,"3":8,"4":536},
{"x":183,"0":446,"1":7,"2":136,"3":7,"4":533},
{"x":184,"0":436,"1":6,"2":128,"3":6,"4":530},
{"x":185,"0":425,"1":5,"2":120,"3":5,"4":527},
{"x":186,"0":415,"1":4,"2":114,"3":4,"4":525},
{"x":187,"0":404,"1":4,"2":108,"3":3,"4":522},
{"x":188,"0":393,"1":3,"2":102,"3":2,"4":519},
{"x":189,"0":383,"1":3,"2":96,"3":1,"4":516},
{"x":190,"0":372,"1":2,"2":91,"3":0,"4":513},
{"x":191,"0":364,"1":2,"2":87,"3":0,"4":509},
{"x":192,"0":355,"1":1,"2":83,"3":0,"4":506},
{"x":193,"0":347,"1":1,"2":78,"3":0,"4":502},
{"x":194,"0":338,"1":1,"2":74,"3":0,"4":499},
{"x":195,"0":330,"1":0,"2":70,"3":0,"4":495},
{"x":196,"0":320,"1":0,"2":66,"3":0,"4":489},
{"x":197,"0":310,"1":0,"2":63,"3":0,"4":483},
{"x":198,"0":300,"1":0,"2":59,"3":0,"4":478},
{"x":199,"0":290,"1":0,"2":56,"3":0,"4":472},
{"x":200,"0":281,"1":0,"2":52,"3":0,"4":466},
{"x":201,"0":272,"1":0,"2":49,"3":0,"4":460},
{"x":202,"0":264,"1":0,"2":46,"3":0,"4":453},
{"x":203,"0":255,"1":0,"2":44,"3":0,"4":447},
{"x":204,"0":246,"1":0,"2":41,"3":0,"4":440},
{"x":205,"0":238,"1":0,"2":38,"3":0,"4":429},
{"x":206,"0":229,"1":0,"2":36,"3":0,"4":418},
{"x":207,"0":220,"1":0,"2":33,"3":0,"4":407},
{"x":208,"0":211,"1":0,"2":31,"3":0,"4":398},
{"x":209,"0":203,"1":0,"2":28,"3":0,"4":389},
{"x":210,"0":194,"1":0,"2":26,"3":0,"4":379},
{"x":211,"0":185,"1":0,"2":24,"3":0,"4":370},
{"x":212,"0":176,"1":0,"2":22,"3":0,"4":359},
{"x":213,"0":168,"1":0,"2":20,"3":0,"4":348},
{"x":214,"0":159,"1":0,"2":19,"3":0,"4":336},
{"x":215,"0":150,"1":0,"2":17,"3":0,"4":325},
{"x":216,"0":145,"1":0,"2":16,"3":0,"4":316},
{"x":217,"0":140,"1":0,"2":14,"3":0,"4":307},
{"x":218,"0":135,"1":0,"2":13,"3":0,"4":298},
{"x":219,"0":130,"1":0,"2":11,"3":0,"4":289},
{"x":220,"0":125,"1":0,"2":10,"3":0,"4":280},
{"x":221,"0":121,"1":0,"2":9,"3":0,"4":268},
{"x":222,"0":117,"1":0,"2":8,"3":0,"4":256},
{"x":223,"0":112,"1":0,"2":7,"3":0,"4":244},
{"x":224,"0":108,"1":0,"2":6,"3":0,"4":232},
{"x":225,"0":105,"1":0,"2":5,"3":0,"4":223},
{"x":226,"0":101,"1":0,"2":4,"3":0,"4":213},
{"x":227,"0":98,"1":0,"2":4,"3":0,"4":204},
{"x":228,"0":95,"1":0,"2":3,"3":0,"4":195},
{"x":229,"0":92,"1":0,"2":3,"3":0,"4":187},
{"x":230,"0":89,"1":0,"2":2,"3":0,"4":178},
{"x":231,"0":87,"1":0,"2":2,"3":0,"4":170},
{"x":232,"0":84,"1":0,"2":1,"3":0,"4":161},
{"x":233,"0":82,"1":0,"2":1,"3":0,"4":155},
{"x":234,"0":80,"1":0,"2":1,"3":0,"4":150},
{"x":235,"0":78,"1":0,"2":0,"3":0,"4":144},
{"x":236,"0":76,"1":0,"2":0,"3":0,"4":138},
{"x":237,"0":74,"1":0,"2":0,"3":0,"4":133},
{"x":238,"0":73,"1":0,"2":0,"3":0,"4":129},
{"x":239,"0":71,"1":0,"2":0,"3":0,"4":124},
{"x":240,"0":70,"1":0,"2":0,"3":0,"4":120},
{"x":241,"0":68,"1":0,"2":0,"3":0,"4":115},
{"x":242,"0":67,"1":0,"2":0,"3":0,"4":111},
{"x":243,"0":67,"1":0,"2":0,"3":0,"4":107},
{"x":244,"0":66,"1":0,"2":0,"3":0,"4":104},
{"x":245,"0":65,"1":0,"2":0,"3":0,"4":100},
{"x":246,"0":64,"1":0,"2":0,"3":0,"4":96},
{"x":247,"0":63,"1":0,"2":0,"3":0,"4":92},
{"x":248,"0":63,"1":0,"2":0,"3":0,"4":88},
{"x":249,"0":62,"1":0,"2":0,"3":0,"4":84},
{"x":250,"0":61,"1":0,"2":0,"3":0,"4":83},
{"x":251,"0":61,"1":0,"2":0,"3":0,"4":84},
{"x":252,"0":61,"1":0,"2":0,"3":0,"4":90},
{"x":253,"0":61,"1":0,"2":0,"3":0,"4":95},
{"x":254,"0":62,"1":0,"2":0,"3":0,"4":103},
{"x":255,"0":75,"1":0,"2":0,"3":0,"4":442}
]
},
"vconcat":[
{
"width":556,"height":368,
"title":{"text":"a","offset":4},
"layer":[
{"data":{"name":"a"},
"transform":[{"fold":["0","1","2","3","4"],"as":["series","count"]}],
"mark":{"type":"bar","width":1.7,"opacity":0.5},
"encoding":{
"x":{"field":"x","type":"quantitative","scale":{"domain":[-13.3,268.3],"nice":false,"zero":false},"axis":{"values":[0,50,100,150,200,250],"title":"grayscale values"}},
"y":{"field":"count","type":"quantitative","stack":null,"scale":{"domain":[0,3626],"nice":false},"axis":{"values":[0,500,1000,1500,2000,2500,3000,3500],"format":"d","title":"counts"}},
"color":{"field":"series","type":"nominal","scale":{"domain":["0","1","2","3","4"],"range":["#1f77b4","#ff7f0e","#2ca02c","#d62728","#9467bd"]},"legend":{"title":null,"orient":"none","legendX":478,"legendY":9}}
}},
{"data":{"values":[{"label":"MN"}]},
"mark":{"type":"text","fontSize":36,"align":"center","baseline":"alphabetic","font":"DejaVu Sans","color":"#000000"},
"encoding":{"x":{"datum":168},"y":{"datum":2578},"text":{"field":"label"}}}
]
},
{
"width":556,"height":368,
"title":{"text":"b","offset":-11.6},
"layer":[
{"data":{"name":"b"},
"transform":[{"fold":["0","1","2","3","4"],"as":["series","count"]}],
"mark":{"type":"bar","width":1.7,"opacity":0.5},
"encoding":{
"x":{"field":"x","type":"quantitative","scale":{"domain":[-13.3,268.3],"nice":false,"zero":false},"axis":{"values":[0,50,100,150,200,250],"title":"grayscale values"}},
"y":{"field":"count","type":"quantitative","stack":null,"scale":{"domain":[0,2956],"nice":false},"axis":{"values":[0,500,1000,1500,2000,2500],"format":"d","title":"counts"}},
"color":{"field":"series","type":"nominal","scale":{"domain":["0","1","2","3","4"],"range":["#1f77b4","#ff7f0e","#2ca02c","#d62728","#9467bd"]},"legend":{"title":null,"orient":"none","legendX":478,"legendY":9}}
}},
{"data":{"values":[{"label":"MR"}]},
"mark":{"type":"text","fontSize":36,"align":"center","baseline":"alphabetic","font":"DejaVu Sans","color":"#000000"},
"encoding":{"x":{"datum":171},"y":{"datum":2108},"text":{"field":"label"}}}
]
},
{
"width":556,"height":368,
"title":{"text":"c","offset":-6.3},
"layer":[
{"data":{"name":"c"},
"transform":[{"fold":["0","1","2","3","4"],"as":["series","count"]}],
"mark":{"type":"bar","width":1.7,"opacity":0.5},
"encoding":{
"x":{"field":"x","type":"quantitative","scale":{"domain":[-13.3,268.3],"nice":false,"zero":false},"axis":{"values":[0,50,100,150,200,250],"title":"grayscale values"}},
"y":{"field":"count","type":"quantitative","stack":null,"scale":{"domain":[0,2582],"nice":false},"axis":{"values":[0,500,1000,1500,2000,2500],"format":"d","title":"counts"}},
"color":{"field":"series","type":"nominal","scale":{"domain":["0","1","2","3","4"],"range":["#1f77b4","#ff7f0e","#2ca02c","#d62728","#9467bd"]},"legend":{"title":null,"orient":"none","legendX":478,"legendY":9}}
}},
{"data":{"values":[{"label":"FR"}]},
"mark":{"type":"text","fontSize":36,"align":"center","baseline":"alphabetic","font":"DejaVu Sans","color":"#000000"},
"encoding":{"x":{"datum":166.5},"y":{"datum":1877},"text":{"field":"label"}}}
]
}
]
}
